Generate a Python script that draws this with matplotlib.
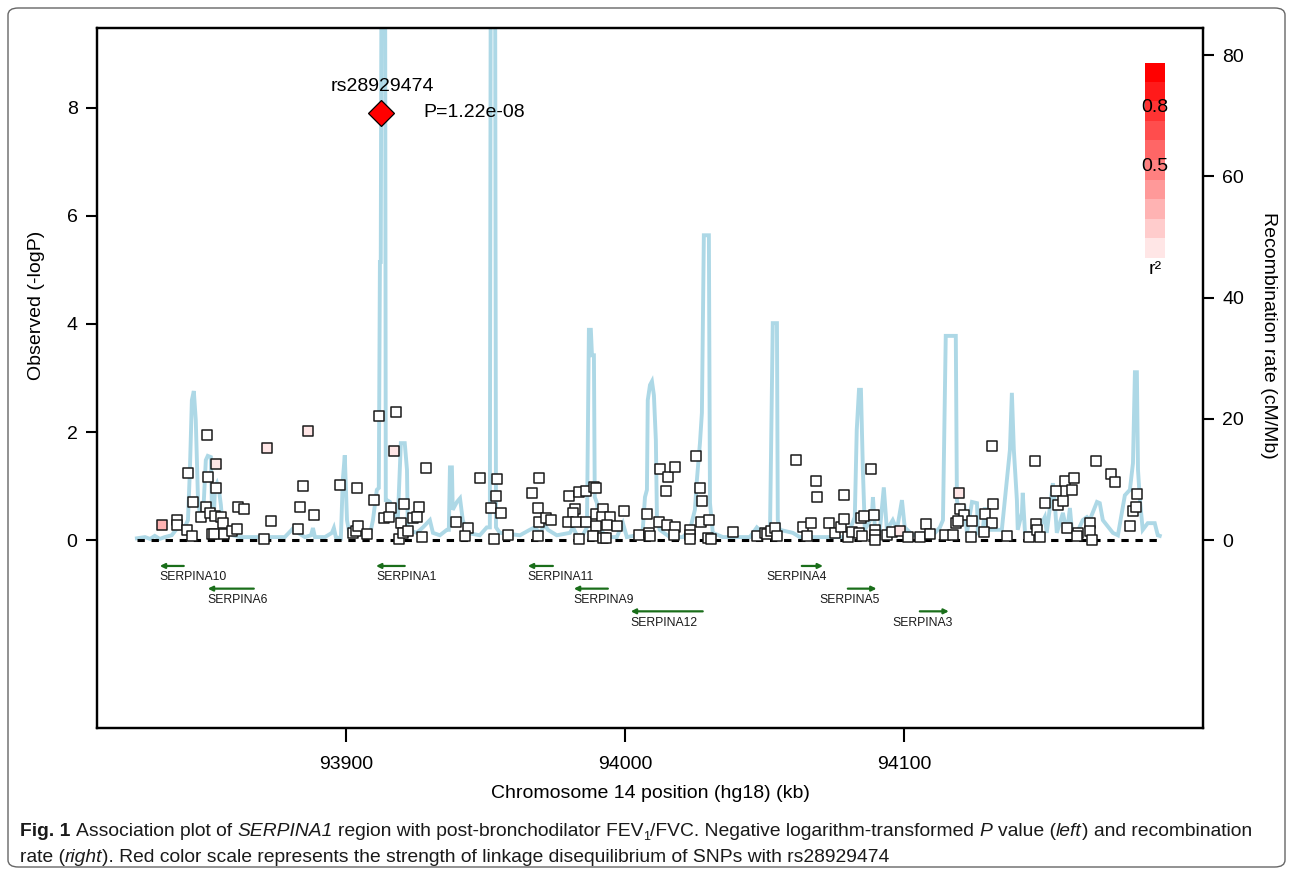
import matplotlib
matplotlib.use('Agg')
import matplotlib.pyplot as plt
import numpy as np
from matplotlib import font_manager
from matplotlib.patches import FancyBboxPatch

plt.rcParams['font.family'] = ['Liberation Sans', 'DejaVu Sans']

# SNP association results: position (kb, hg18) and -log10(P)
snp_kb = [
    93834.1, 93839.4, 93839.4, 93843.0, 93844.8, 93843.4, 93845.2, 93850.2, 93850.5, 93849.8,
    93848.0, 93851.3, 93853.1, 93855.2, 93855.9, 93853.4, 93853.4, 93852.0, 93852.7, 93856.3,
    93859.1, 93860.9, 93861.3, 93863.4, 93870.6, 93871.7, 93873.1, 93882.8, 93883.5, 93884.6,
    93888.5, 93886.4, 93897.8, 93903.9, 93911.8, 93917.9, 93917.2, 93910.0, 93916.1, 93913.6,
    93915.4, 93920.8, 93919.7, 93926.2, 93924.0, 93925.4, 93928.7, 93902.5, 93903.6, 93904.3,
    93907.5, 93919.0, 93920.4, 93922.2, 93927.2, 93939.4, 93943.7, 93942.6, 93948.0, 93954.1,
    93953.8, 93952.0, 93955.6, 93953.0, 93958.1, 93966.7, 93969.2, 93968.8, 93969.2, 93971.7,
    93973.5, 93968.8, 93979.9, 93983.5, 93986.0, 93988.9, 93989.6, 93982.1, 93981.4, 93979.6,
    93982.4, 93986.0, 93989.6, 93992.1, 93991.8, 93994.6, 93993.5, 93997.1, 93999.6, 93989.6,
    93988.5, 93983.5, 93992.1, 93993.2, 94005.0, 94007.9, 94008.6, 94009.0, 94012.2, 94015.0,
    94017.9, 94017.6, 94012.5, 94015.4, 94017.9, 94014.7, 94023.3, 94023.3, 94023.3, 94025.4,
    94026.9, 94027.6, 94027.2, 94030.1, 94029.7, 94030.8, 94038.7, 94047.3, 94050.2, 94050.9,
    94052.3, 94053.8, 94054.5, 94061.3, 94068.4, 94068.8, 94078.5, 94063.8, 94065.2, 94066.7,
    94073.1, 94075.3, 94077.4, 94078.5, 94079.9, 94081.4, 94083.9, 94084.6, 94085.7, 94084.9,
    94088.2, 94089.2, 94089.6, 94089.6, 94089.6, 94093.9, 94095.7, 94098.6, 94101.4, 94105.7,
    94107.9, 94109.3, 94114.7, 94117.5, 94119.7, 94120.1, 94121.5, 94118.6, 94119.3, 94124.4,
    94124.0, 94131.5, 94131.9, 94129.0, 94131.5, 94128.7, 94136.9, 94144.8, 94146.9, 94147.3,
    94147.7, 94148.7, 94150.5, 94154.5, 94155.2, 94157.0, 94157.7, 94160.9, 94160.2, 94158.4,
    94162.3, 94162.0, 94166.6, 94166.6, 94167.4, 94168.8, 94174.2, 94175.6, 94181.0, 94182.1,
    94183.1, 94183.5,
]
snp_logp = [
    0.28, 0.37, 0.28, 0.19, 0.07, 1.24, 0.70, 1.94, 1.17, 0.61,
    0.43, 0.50, 0.44, 0.43, 0.31, 1.41, 0.96, 0.11, 0.11, 0.11,
    0.17, 0.20, 0.61, 0.57, 0.02, 1.70, 0.35, 0.20, 0.61, 1.00,
    0.46, 2.02, 1.02, 0.96, 2.30, 2.37, 1.65, 0.74, 0.59, 0.41,
    0.43, 0.67, 0.31, 0.61, 0.41, 0.43, 1.33, 0.13, 0.17, 0.26,
    0.11, 0.02, 0.13, 0.17, 0.06, 0.33, 0.22, 0.07, 1.15, 1.13,
    0.81, 0.59, 0.50, 0.02, 0.09, 0.87, 1.15, 0.59, 0.33, 0.41,
    0.37, 0.07, 0.81, 0.89, 0.91, 0.98, 0.96, 0.57, 0.50, 0.33,
    0.33, 0.33, 0.48, 0.57, 0.43, 0.43, 0.28, 0.26, 0.54, 0.26,
    0.07, 0.02, 0.04, 0.04, 0.09, 0.48, 0.13, 0.07, 0.33, 0.28,
    0.24, 0.09, 1.31, 1.17, 1.35, 0.91, 0.19, 0.09, 0.02, 1.56,
    0.96, 0.72, 0.33, 0.37, 0.04, 0.02, 0.15, 0.07, 0.13, 0.11,
    0.17, 0.22, 0.07, 1.48, 1.09, 0.80, 0.83, 0.24, 0.07, 0.31,
    0.31, 0.13, 0.24, 0.39, 0.06, 0.15, 0.13, 0.41, 0.44, 0.07,
    1.31, 0.46, 0.19, 0.09, 0.00, 0.09, 0.15, 0.17, 0.06, 0.06,
    0.30, 0.11, 0.09, 0.09, 0.87, 0.57, 0.46, 0.31, 0.35, 0.35,
    0.06, 1.74, 0.67, 0.48, 0.31, 0.15, 0.07, 0.06, 1.46, 0.30,
    0.19, 0.06, 0.69, 0.91, 0.65, 0.72, 1.09, 1.15, 0.93, 0.22,
    0.13, 0.07, 0.31, 0.17, 0.00, 1.46, 1.22, 1.07, 0.26, 0.54,
    0.61, 0.85,
]
# r^2 with the lead SNP for the few points that are not white (index: r2)
snp_ld = {0: 0.3, 15: 0.1, 25: 0.1, 31: 0.1, 36: 0.1, 147: 0.1, 154: 0.1}

lead_kb = 93912.5
lead_logp = 7.91
lead_name = 'rs28929474'
lead_p = 'P=1.22e-08'

# recombination rate (cM/Mb)
recomb_kb = [
    93825.1, 93828.0, 93829.8, 93831.5, 93833.3, 93835.1, 93837.6, 93839.1, 93840.5, 93841.9,
    93843.4, 93844.1, 93844.8, 93845.5, 93846.2, 93847.0, 93848.0, 93849.1, 93849.8, 93850.5,
    93851.6, 93852.0, 93852.7, 93853.1, 93853.8, 93854.5, 93855.2, 93855.9, 93857.0, 93858.4,
    93859.5, 93862.0, 93869.2, 93878.1, 93880.6, 93881.7, 93882.8, 93885.3, 93887.5, 93888.2,
    93888.9, 93892.5, 93895.0, 93895.7, 93896.4, 93898.2, 93898.9, 93899.6, 93900.4, 93901.4,
    93905.0, 93906.8, 93908.6, 93909.7, 93911.1, 93911.8, 93912.2, 93912.5, 93912.9, 93914.0,
    93914.3, 93914.7, 93915.8, 93916.8, 93918.6, 93919.7, 93921.1, 93921.9, 93922.2, 93925.4,
    93927.6, 93930.1, 93931.2, 93933.7, 93936.2, 93936.9, 93937.3, 93938.0, 93938.3, 93939.8,
    93940.9, 93941.9, 93943.4, 93948.0, 93950.5, 93951.6, 93952.0, 93953.4, 93953.8, 93955.2,
    93962.4, 93965.9, 93967.7, 93969.5, 93971.3, 93972.4, 93975.6, 93980.3, 93981.4, 93982.8,
    93984.9, 93986.4, 93987.1, 93987.8, 93988.2, 93988.9, 93989.2, 93990.0, 93991.0, 93993.9,
    93997.1, 93999.3, 94000.7, 94004.3, 94006.4, 94007.2, 94007.9, 94008.2, 94009.0, 94009.7,
    94010.4, 94011.1, 94011.5, 94012.5, 94016.1, 94020.8, 94023.3, 94025.1, 94025.8, 94026.9,
    94027.6, 94028.3, 94030.1, 94030.5, 94031.5, 94035.1, 94044.8, 94047.3, 94049.5, 94052.0,
    94053.0, 94054.5, 94054.8, 94055.5, 94060.2, 94062.7, 94079.6, 94082.4, 94083.1, 94083.9,
    94084.6, 94085.3, 94086.0, 94088.5, 94088.9, 94089.6, 94091.4, 94092.8, 94093.9, 94096.0,
    94097.5, 94099.3, 94100.3, 94103.2, 94108.2, 94110.4, 94112.9, 94114.0, 94115.0, 94118.6,
    94119.0, 94120.1, 94121.8, 94122.6, 94124.4, 94126.2, 94126.5, 94128.3, 94129.0, 94130.1,
    94135.1, 94136.9, 94138.0, 94138.7, 94139.4, 94140.5, 94140.8, 94142.3, 94142.6, 94143.4,
    94147.7, 94150.5, 94151.2, 94153.4, 94154.1, 94154.8, 94157.0, 94158.4, 94159.5, 94160.2,
    94162.0, 94164.1, 94165.6, 94166.6, 94169.2, 94170.2, 94171.3, 94174.9, 94176.7, 94179.2,
    94181.0, 94182.1, 94182.8, 94183.5, 94183.9, 94184.6, 94185.6, 94187.4, 94189.9, 94191.0,
    94191.7,
]
recomb_rate = [
    0.3, 0.5, 0.2, 0.7, 0.2, 0.5, 0.8, 1.7, 2.1, 1.8,
    3.3, 11.6, 23.1, 24.6, 19.8, 6.6, 3.3, 6.6, 13.2, 13.9,
    13.7, 5.0, 4.1, 8.7, 9.4, 8.3, 5.8, 1.7, 2.5, 1.7,
    0.8, 0.5, 0.5, 0.5, 1.7, 2.3, 1.2, 0.5, 0.8, 2.0,
    0.5, 0.5, 1.2, 2.0, 0.5, 0.3, 9.9, 14.0, 3.3, 0.7,
    1.2, 0.5, 0.8, 3.3, 8.3, 8.6, 45.9, 45.9, 120.0, 120.0,
    6.6, 6.6, 6.3, 5.0, 3.3, 16.0, 16.0, 11.6, 1.7, 1.2,
    2.1, 3.3, 1.2, 0.8, 1.7, 1.7, 12.0, 12.0, 5.0, 6.3,
    6.9, 3.3, 1.2, 0.8, 2.1, 2.1, 120.0, 120.0, 2.1, 1.2,
    0.8, 1.7, 2.1, 1.2, 2.5, 1.7, 0.8, 1.2, 2.1, 0.8,
    0.8, 2.1, 34.7, 34.7, 30.5, 30.5, 7.1, 6.1, 1.7, 0.5,
    0.5, 2.8, 0.5, 0.8, 1.7, 7.1, 8.3, 23.1, 25.6, 26.2,
    23.9, 16.5, 3.3, 1.7, 0.5, 0.5, 1.7, 5.0, 9.9, 16.0,
    21.0, 50.3, 50.3, 6.1, 1.2, 0.5, 0.5, 2.1, 1.2, 1.2,
    35.8, 35.8, 3.3, 1.7, 1.2, 0.5, 0.5, 3.8, 18.2, 24.8,
    24.8, 11.6, 1.7, 3.8, 7.1, 2.1, 1.7, 8.7, 1.7, 3.3,
    1.7, 6.6, 2.1, 0.8, 1.2, 0.8, 2.1, 3.3, 33.7, 33.7,
    6.6, 3.8, 5.0, 1.2, 6.3, 6.1, 1.2, 1.7, 5.4, 1.7,
    1.7, 9.9, 14.9, 24.3, 14.9, 6.6, 1.7, 4.5, 7.8, 1.2,
    1.2, 3.8, 1.2, 9.4, 6.1, 1.2, 4.5, 1.2, 5.3, 1.7,
    1.2, 3.3, 3.8, 3.3, 6.3, 6.1, 3.3, 1.2, 0.8, 7.4,
    8.3, 12.7, 27.7, 27.7, 11.6, 6.6, 1.7, 2.8, 2.8, 0.8,
    0.7,
]

# genes in the region
gene_names = ['SERPINA10', 'SERPINA6', 'SERPINA1', 'SERPINA11', 'SERPINA9',
              'SERPINA12', 'SERPINA4', 'SERPINA5', 'SERPINA3']
gene_start = [93833.3, 93850.5, 93910.8, 93965.2, 93981.7, 94002.1, 94063.4, 94079.9, 94105.7]
gene_end = [93841.9, 93867.0, 93921.1, 93974.2, 93993.9, 94027.9, 94071.0, 94090.2, 94116.1]
gene_strand = [-1, -1, -1, -1, -1, -1, 1, 1, 1]
gene_row = [0, 1, 0, 0, 1, 2, 0, 1, 2]

W, H = 1293, 875
fig = plt.figure(figsize=(W / 100, H / 100), dpi=100)
ax = fig.add_axes([97 / W, 1 - 728 / H, (1203 - 97) / W, 700 / H])
ax_r = ax.twinx()
ax.set_zorder(ax_r.get_zorder() + 1)
ax.patch.set_visible(False)

# recombination rate
ax_r.plot(recomb_kb, recomb_rate, color='#add8e6', lw=2.8, solid_joinstyle='miter')
ax_r.set_ylim(-31.0, 84.5)
ax_r.set_yticks([0, 20, 40, 60, 80])

# baseline
ax.plot([snp_kb[0] - 9, recomb_kb[-1]], [0, 0], color='black', lw=2.2,
        linestyle=(0, (2.4, 2.2)), zorder=2)

# SNPs
fills = []
for i in range(len(snp_kb)):
    r2 = snp_ld.get(i, 0.0)
    fills.append((1.0, 1 - r2, 1 - r2))
ax.scatter(snp_kb, snp_logp, marker='s', s=54, facecolors=fills,
           edgecolors='#1a1a1a', linewidths=1.1, zorder=3)

# lead SNP
ax.plot([lead_kb], [lead_logp], marker='D', ms=13, mfc='red', mec='black',
        mew=0.9, zorder=4, ls='none')
ax.annotate(lead_name, (lead_kb, lead_logp), xytext=(1, 19), textcoords='offset points',
            ha='center', va='center', fontsize=14)
ax.annotate(lead_p, (lead_kb, lead_logp), xytext=(31, 0), textcoords='offset points',
            ha='left', va='center', fontsize=14)

# genes
for name, s, e, strand, row in zip(gene_names, gene_start, gene_end, gene_strand, gene_row):
    y = -0.48 - 0.42 * row
    if strand < 0:
        head, tail, lx, ha = s, e, s, 'left'
    else:
        head, tail, lx, ha = e, s, e + 1.3, 'right'
    ax.annotate('', xy=(head, y), xytext=(tail, y),
                arrowprops=dict(arrowstyle='-|>', color='#1a6e1a', lw=1.6,
                                mutation_scale=7, shrinkA=0, shrinkB=0))
    ax.text(lx, y - 0.21, name, ha=ha, va='center', fontsize=8.8, color='#1a1a1a')

ax.set_xlim(93810.8, 94207.2)
ax.set_ylim(-3.48, 9.48)
ax.set_xticks([93900, 94000, 94100])
ax.set_xticklabels(['93900', '94000', '94100'])
ax.set_yticks([0, 2, 4, 6, 8])

for a in (ax, ax_r):
    for sp in a.spines.values():
        sp.set_linewidth(1.6)
    a.tick_params(direction='out', length=8, width=1.5, labelsize=14, pad=6)
ax.tick_params(axis='x', length=10, pad=10)

fig.text(650 / W, 1 - 793 / H, 'Chromosome 14 position (hg18) (kb)', ha='center',
         va='center', fontsize=14)
fig.text(37 / W, 1 - 305 / H, 'Observed (-logP)', rotation=90, ha='center',
         va='center', fontsize=14)
fig.text(1268 / W, 1 - 335 / H, 'Recombination rate (cM/Mb)', rotation=270,
         ha='center', va='center', fontsize=14)

# r^2 colour scale
cax = fig.add_axes([1145 / W, 1 - 258 / H, 20 / W, 195 / H])
steps = np.arange(10)
cols = np.ones((10, 1, 4))
cols[:, 0, 0] = 1.0
cols[:, 0, 1] = 0.0
cols[:, 0, 2] = 0.0
cols[:, 0, 3] = (steps + 1) / 10
cax.imshow(cols, origin='lower', extent=(0, 1, 0, 1), aspect='auto')
cax.set_xlim(0, 1)
cax.set_ylim(0, 1)
cax.axis('off')
for v in (0.8, 0.5):
    cax.text(0.5, v - 0.03, str(v), ha='center', va='center', fontsize=14,
             transform=cax.transAxes)
cax.text(0.5, -0.06, 'r²', ha='center', va='center', fontsize=14, transform=cax.transAxes)

# border
fig.patches.append(FancyBboxPatch((8 / W, 8 / H), 1277 / W, 859 / H,
                                  boxstyle='round,pad=0,rounding_size=0.008',
                                  transform=fig.transFigure, fc='none', ec='#666666',
                                  lw=1.0))

# caption
try:
    font_manager.findfont(font_manager.FontProperties(family='Liberation Sans Narrow'),
                          fallback_to_default=False)
    cap_family = 'Liberation Sans Narrow'
except Exception:
    cap_family = 'Liberation Sans'

line1 = [('Fig. 1', 'bold', False), ('Association plot of', 'normal', True),
         ('SERPINA1', 'italic', True), ('region with post-bronchodilator FEV', 'normal', True),
         ('1', 'sub', False), ('/FVC. Negative logarithm-transformed', 'normal', False),
         ('P', 'italic', True), ('value (', 'normal', True), ('left', 'italic', False),
         (') and recombination', 'normal', False)]
line2 = [('rate (', 'normal', False), ('right', 'italic', False),
         ('). Red color scale represents the strength of linkage disequilibrium of SNPs '
          'with rs28929474', 'normal', False)]

renderer = fig.canvas.get_renderer()


def make_text(x, y, s, style, size):
    kw = dict(family=cap_family, fontsize=size, color='#1a1a1a', va='baseline', ha='left')
    if style == 'bold':
        kw['weight'] = 'bold'
    elif style == 'italic':
        kw['style'] = 'italic'
    elif style == 'sub':
        kw['fontsize'] = size * 0.65
        y -= 4 / H
    return fig.text(x, y, s, **kw)


def layout(segs, y, size, draw=True):
    t = fig.text(0, 0, 'a a', family=cap_family, fontsize=size)
    t2 = fig.text(0, 0, 'aa', family=cap_family, fontsize=size)
    space = t.get_window_extent(renderer).width - t2.get_window_extent(renderer).width
    t.remove()
    t2.remove()
    x = 20.0
    made = []
    for s, style, sp in segs:
        if sp:
            x += space
        txt = make_text(x / W, y, s, style, size)
        x += txt.get_window_extent(renderer).width
        made.append(txt)
    if not draw:
        for txt in made:
            txt.remove()
    return x


size = 12.0
end = layout(line1, 0.0, size, draw=False)
size = size * (1253 - 20) / (end - 20)
layout(line1, 1 - 836 / H, size)
layout(line2, 1 - 862 / H, size)

fig.savefig('out.png', dpi=100)
